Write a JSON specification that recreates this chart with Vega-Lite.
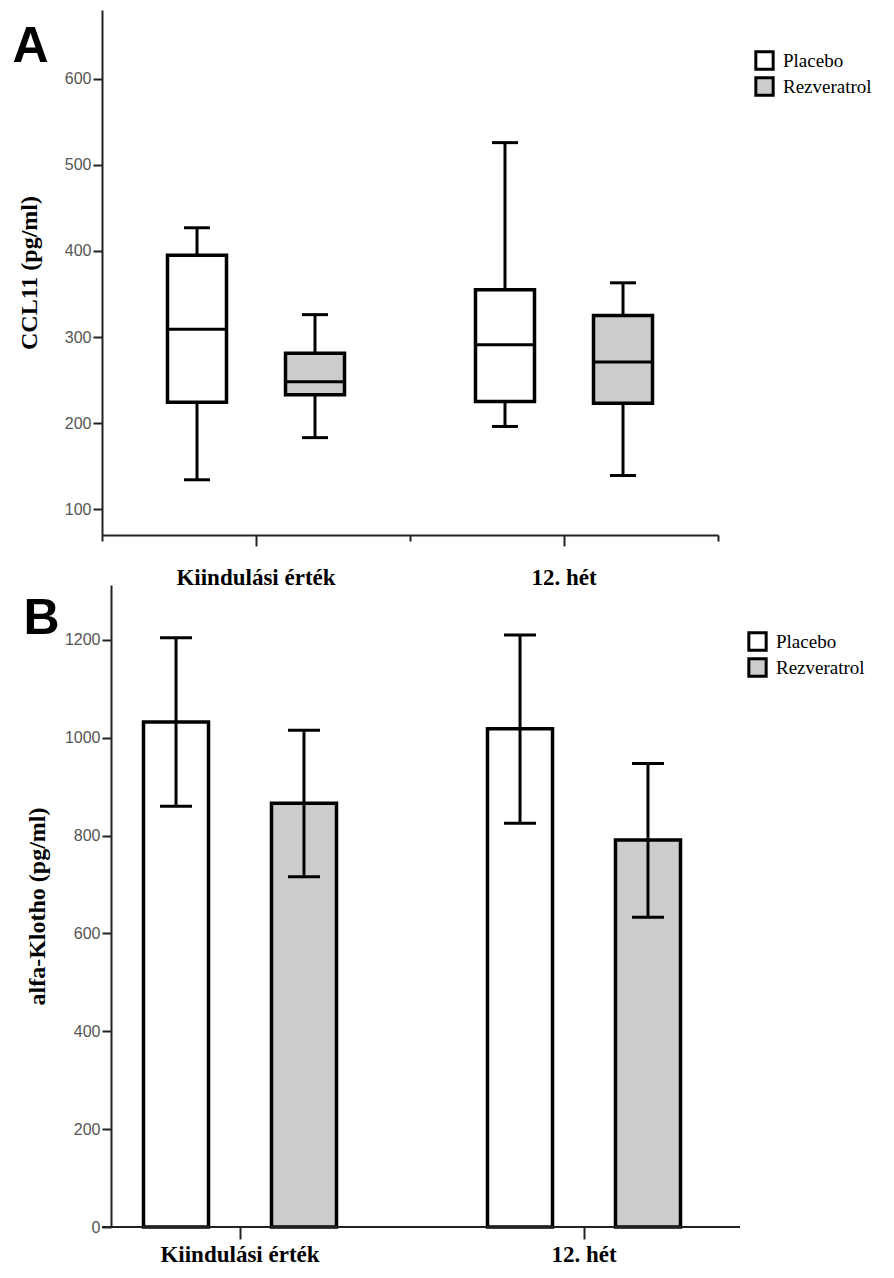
{
  "$schema": "https://vega.github.io/schema/vega-lite/v6.json",
  "background": "white",
  "padding": {"left": 12, "top": 10, "right": 5, "bottom": 5},
  "bounds": "flush",
  "spacing": 50,
  "config": {
    "view": {"stroke": null},
    "axis": {"grid": false, "domainColor": "#222", "domainWidth": 2, "tickColor": "#222", "tickWidth": 2, "labelFont": "Liberation Sans", "labelFontSize": 16, "labelColor": "#555", "titleFont": "Liberation Serif", "titleFontSize": 24, "titleFontWeight": "bold", "titleColor": "black"},
    "legend": {"padding": 0}
  },
  "datasets": {
    "ccl11": [
      {"time": "Kiindulási érték", "group": "Placebo", "min": 134, "q1": 224, "median": 309, "q3": 395, "max": 427},
      {"time": "Kiindulási érték", "group": "Rezveratrol", "min": 183, "q1": 233, "median": 248, "q3": 281, "max": 326},
      {"time": "12. hét", "group": "Placebo", "min": 196, "q1": 225, "median": 291, "q3": 355, "max": 526},
      {"time": "12. hét", "group": "Rezveratrol", "min": 139, "q1": 223, "median": 271, "q3": 325, "max": 363}
    ],
    "klotho": [
      {"time": "Kiindulási érték", "group": "Placebo", "mean": 1032, "lo": 860, "hi": 1204},
      {"time": "Kiindulási érték", "group": "Rezveratrol", "mean": 866, "lo": 716, "hi": 1015},
      {"time": "12. hét", "group": "Placebo", "mean": 1018, "lo": 825, "hi": 1210},
      {"time": "12. hét", "group": "Rezveratrol", "mean": 791, "lo": 633, "hi": 947}
    ]
  },
  "resolve": {"scale": {"fill": "independent", "xOffset": "independent"}, "legend": {"fill": "independent"}},
  "vconcat": [
    {
      "width": 616,
      "height": 525,
      "data": {"name": "ccl11"},
      "resolve": {"axis": {"x": "independent", "y": "independent"}},
      "encoding": {
        "x": {"field": "time", "type": "nominal", "sort": ["Kiindulási érték", "12. hét"], "scale": {"paddingInner": 0, "paddingOuter": 0}, "axis": null},
        "xOffset": {"field": "group", "type": "nominal", "sort": ["Placebo", "Rezveratrol"], "scale": {"paddingInner": 0.5, "paddingOuter": 0.555}}
      },
      "layer": [
        {
          "mark": {"type": "rule", "color": "black", "strokeWidth": 3},
          "encoding": {
            "x": {"field": "time", "type": "nominal", "sort": ["Kiindulási érték", "12. hét"], "scale": {"paddingInner": 0, "paddingOuter": 0}, "axis": {"orient": "bottom", "title": null, "tickSize": 11, "labelFont": "Liberation Serif", "labelFontSize": 23, "labelFontWeight": "bold", "labelColor": "black", "labelPadding": 20, "labelAngle": 0}},
            "y": {"field": "min", "type": "quantitative", "scale": {"domain": [69.8, 680.2], "nice": false, "zero": false}, "axis": {"orient": "left", "title": "CCL11 (pg/ml)", "values": [100, 200, 300, 400, 500, 600], "tickSize": 9, "labelPadding": 2, "titlePadding": 23}},
            "y2": {"field": "q1"}
          }
        },
        {
          "mark": {"type": "rule", "color": "black", "strokeWidth": 3},
          "encoding": {
            "x": {"field": "time", "type": "nominal", "sort": ["Kiindulási érték", "12. hét"], "scale": {"paddingInner": 0, "paddingOuter": 0}, "axis": {"orient": "bottom", "title": null, "tickBand": "extent", "labels": false, "domain": false, "tickSize": 6}},
            "y": {"field": "q3", "type": "quantitative", "axis": null},
            "y2": {"field": "max"}
          }
        },
        {
          "mark": {"type": "bar", "stroke": "black", "strokeWidth": 3.5},
          "encoding": {
            "y": {"field": "q1", "type": "quantitative", "axis": null},
            "y2": {"field": "q3"},
            "fill": {"field": "group", "type": "nominal", "sort": ["Placebo", "Rezveratrol"], "scale": {"range": ["white", "#cccccc"]}, "legend": {"orient": "none", "legendX": 652, "legendY": 40, "title": null, "symbolType": "square", "symbolSize": 300, "symbolStrokeColor": "black", "symbolStrokeWidth": 3, "labelFont": "Liberation Serif", "labelFontSize": 19, "labelColor": "black", "rowPadding": -5, "labelOffset": 8}}
          }
        },
        {
          "mark": {"type": "tick", "color": "black", "opacity": 1, "size": 59, "thickness": 3},
          "encoding": {"y": {"field": "median", "type": "quantitative", "axis": {"orient": "left", "title": "A", "titleAngle": 0, "titleX": -90, "titleY": 11, "titleAlign": "left", "titleBaseline": "top", "titleFont": "Liberation Sans", "titleFontSize": 50, "titleFontWeight": "bold", "titleColor": "black", "domain": false, "ticks": false, "labels": false}}}
        },
        {
          "mark": {"type": "tick", "color": "black", "opacity": 1, "size": 26, "thickness": 3},
          "encoding": {"y": {"field": "min", "type": "quantitative", "axis": null}}
        },
        {
          "mark": {"type": "tick", "color": "black", "opacity": 1, "size": 26, "thickness": 3},
          "encoding": {"y": {"field": "max", "type": "quantitative", "axis": null}}
        }
      ]
    },
    {
      "width": 638,
      "height": 642,
      "data": {"name": "klotho"},
      "resolve": {"axis": {"y": "independent"}},
      "layer": [
        {
          "mark": {"type": "bar", "stroke": "black", "strokeWidth": 3.5},
          "encoding": {
            "x": {"field": "time", "type": "nominal", "sort": ["Kiindulási érték", "12. hét"], "scale": {"range": [-34, 654], "paddingInner": 0, "paddingOuter": 0}, "axis": {"title": null, "domain": false, "tickSize": 12, "labelFont": "Liberation Serif", "labelFontSize": 23, "labelFontWeight": "bold", "labelColor": "black", "labelPadding": 4, "labelAngle": 0}},
            "xOffset": {"field": "group", "type": "nominal", "sort": ["Placebo", "Rezveratrol"], "scale": {"paddingInner": 0.492, "paddingOuter": 0.59}},
            "y": {"field": "mean", "type": "quantitative", "scale": {"domain": [0, 1312], "nice": false}, "axis": {"orient": "left", "title": "alfa-Klotho (pg/ml)", "values": [0, 200, 400, 600, 800, 1000, 1200], "format": "d", "tickSize": 9, "labelPadding": 2, "titlePadding": 15, "offset": -9}},
            "fill": {"field": "group", "type": "nominal", "sort": ["Placebo", "Rezveratrol"], "scale": {"range": ["white", "#cccccc"]}, "legend": {"orient": "none", "legendX": 645, "legendY": 46, "title": null, "symbolType": "square", "symbolSize": 300, "symbolStrokeColor": "black", "symbolStrokeWidth": 3, "labelFont": "Liberation Serif", "labelFontSize": 19, "labelColor": "black", "rowPadding": -5, "labelOffset": 8}}
          }
        },
        {
          "mark": {"type": "rule", "color": "black", "strokeWidth": 3},
          "encoding": {
            "x": {"field": "time", "type": "nominal", "sort": ["Kiindulási érték", "12. hét"]},
            "xOffset": {"field": "group", "type": "nominal", "sort": ["Placebo", "Rezveratrol"]},
            "y": {"field": "lo", "type": "quantitative", "axis": {"orient": "left", "title": "B", "titleAngle": 0, "titleX": -79, "titleY": 8, "titleAlign": "left", "titleBaseline": "top", "titleFont": "Liberation Sans", "titleFontSize": 50, "titleFontWeight": "bold", "titleColor": "black", "domain": false, "ticks": false, "labels": false}},
            "y2": {"field": "hi"}
          }
        },
        {
          "mark": {"type": "tick", "color": "black", "opacity": 1, "size": 32, "thickness": 3},
          "encoding": {
            "x": {"field": "time", "type": "nominal", "sort": ["Kiindulási érték", "12. hét"]},
            "xOffset": {"field": "group", "type": "nominal", "sort": ["Placebo", "Rezveratrol"]},
            "y": {"field": "lo", "type": "quantitative", "axis": null}
          }
        },
        {
          "mark": {"type": "tick", "color": "black", "opacity": 1, "size": 32, "thickness": 3},
          "encoding": {
            "x": {"field": "time", "type": "nominal", "sort": ["Kiindulási érték", "12. hét"]},
            "xOffset": {"field": "group", "type": "nominal", "sort": ["Placebo", "Rezveratrol"]},
            "y": {"field": "hi", "type": "quantitative", "axis": null}
          }
        },
        {
          "mark": {"type": "rule", "color": "#222", "strokeWidth": 2},
          "encoding": {"y": {"datum": 0, "axis": null}}
        }
      ]
    }
  ]
}
